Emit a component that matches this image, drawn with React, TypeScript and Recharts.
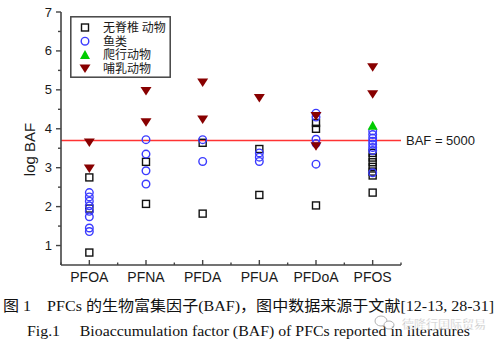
import React from 'react';
import { ScatterChart, Scatter, XAxis, YAxis, ReferenceLine, Legend } from 'recharts';

// log BAF values, one list per compound (PFOA .. PFOS)
const categories = ['PFOA', 'PFNA', 'PFDA', 'PFUA', 'PFDoA', 'PFOS'];

const invertebrates = [
  [2.75, 1.95, 0.82],
  [3.15, 2.07],
  [3.64, 1.82],
  [3.48, 2.3],
  [4.15, 4.0, 2.03],
  [3.38, 3.26, 3.14, 3.02, 2.9, 2.8, 2.36],
];

const fish = [
  [2.36, 2.25, 2.14, 2.02, 1.88, 1.74, 1.45, 1.36],
  [3.72, 3.35, 2.92, 2.58],
  [3.72, 3.16],
  [3.38, 3.27, 3.16],
  [4.4, 4.3, 3.73, 3.62, 3.09],
  [3.94, 3.85, 3.76, 3.68, 3.6, 3.52, 3.44, 2.87],
];

const reptiles = [[], [], [], [], [], [4.08]];

const mammals = [
  [3.65, 2.98],
  [4.97, 4.17],
  [5.19, 4.24],
  [4.79],
  [4.33, 3.55],
  [5.58, 4.89],
];

const bafLimit = 3.699; // log10(5000)
const xTicks = [0, 0.5, 1, 1.5, 2, 2.5, 3, 3.5, 4, 4.5, 5, 5.5, 6];
const yTicks = [1, 1.5, 2, 2.5, 3, 3.5, 4, 4.5, 5, 5.5, 6, 6.5, 7];

const toPoints = (groups: number[][]) =>
  groups.flatMap((vals, i) => vals.map((v) => ({ x: i + 0.5, y: v })));

const axisColor = '#444';
const textColor = '#1a1a1a';
const sansFont = "'Liberation Sans', Arial, sans-serif";
const axisLine = { stroke: axisColor, strokeWidth: 1.6 };

const Square = (props: any) => {
  const { cx, cy } = props;
  if (cx == null || cy == null) return null;
  return <rect x={cx - 3.5} y={cy - 3.5} width={7} height={7} fill="none" stroke="#111" strokeWidth={1.4} />;
};

const Ring = (props: any) => {
  const { cx, cy } = props;
  if (cx == null || cy == null) return null;
  return <circle cx={cx} cy={cy} r={3.8} fill="none" stroke="#3b3bff" strokeWidth={1.4} />;
};

const TriUp = (props: any) => {
  const { cx, cy } = props;
  if (cx == null || cy == null) return null;
  return <polygon points={`${cx - 5},${cy + 4} ${cx + 5},${cy + 4} ${cx},${cy - 5}`} fill="#00cc00" />;
};

const TriDown = (props: any) => {
  const { cx, cy } = props;
  if (cx == null || cy == null) return null;
  return <polygon points={`${cx - 5.5},${cy - 4} ${cx + 5.5},${cy - 4} ${cx},${cy + 4.5}`} fill="#880000" />;
};

const isMajorX = (v: number) => v % 1 !== 0;

const BottomTick = (props: any) => {
  const { x, y, payload } = props;
  const v = payload.value;
  const major = isMajorX(v);
  return (
    <g>
      <line x1={x} x2={x} y1={y} y2={y - (major ? 5 : 2.5)} stroke={axisColor} strokeWidth={1.4} />
      {major && (
        <text x={x} y={y + 17} textAnchor="middle" fontSize={14} fontFamily={sansFont} fill={textColor}>
          {categories[Math.floor(v)]}
        </text>
      )}
    </g>
  );
};

const TopTick = (props: any) => {
  const { x, y, payload } = props;
  const major = isMajorX(payload.value);
  return <line x1={x} x2={x} y1={y} y2={y + (major ? 4 : 2)} stroke={axisColor} strokeWidth={1.4} />;
};

const LeftTick = (props: any) => {
  const { x, y, payload } = props;
  const v = payload.value;
  const major = v % 1 === 0;
  return (
    <g>
      <line x1={x - (major ? 5 : 3)} x2={x} y1={y} y2={y} stroke={axisColor} strokeWidth={1.4} />
      {major && (
        <text x={x - 9} y={y + 4.5} textAnchor="end" fontSize={13} fontFamily={sansFont} fill={textColor}>
          {v}
        </text>
      )}
    </g>
  );
};

const RightTick = (props: any) => {
  const { x, y, payload } = props;
  const major = payload.value % 1 === 0;
  return <line x1={x} x2={x + (major ? 4 : 2.5)} y1={y} y2={y} stroke={axisColor} strokeWidth={1.4} />;
};

const YLabel = (props: any) => {
  const vb = props.viewBox || { x: 0, y: 12, width: 61, height: 253 };
  const cx = vb.x + 29;
  const cy = vb.y + vb.height / 2 + 11;
  return (
    <text
      x={cx}
      y={cy}
      transform={`rotate(-90, ${cx}, ${cy})`}
      textAnchor="middle"
      dominantBaseline="central"
      fontSize={15}
      fontFamily={sansFont}
      fill={textColor}
    >
      log BAF
    </text>
  );
};

const legendItems = [
  { name: '无脊椎 动物', Marker: Square },
  { name: '鱼类', Marker: Ring },
  { name: '爬行动物', Marker: TriUp },
  { name: '哺乳动物', Marker: TriDown },
];

const LegendBox = () => (
  <svg width={101} height={62} style={{ display: 'block' }}>
    <rect x={0.8} y={0.8} width={99.4} height={60.4} fill="#fff" stroke={axisColor} strokeWidth={1.5} />
    {legendItems.map((item, i) => {
      const cy = 11.5 + i * 13.7;
      const M = item.Marker;
      return (
        <g key={item.name}>
          <M cx={15} cy={cy} />
          <text x={33} y={cy + 4.3} fontSize={12} fontFamily="'Noto Sans CJK SC', sans-serif" fill={textColor}>
            {item.name}
          </text>
        </g>
      );
    })}
  </svg>
);

export default function App() {
  return (
    <div style={{ position: 'absolute', left: 0, top: 0, width: 500, height: 347, background: '#fff' }}>
      <ScatterChart width={500} height={290} margin={{ top: 12, right: 99, bottom: 0, left: 0 }}>
        <XAxis
          xAxisId="b"
          type="number"
          dataKey="x"
          domain={[0, 6]}
          ticks={xTicks}
          interval={0}
          height={25}
          tickSize={0}
          tickMargin={0}
          tick={<BottomTick />}
          axisLine={axisLine}
          allowDataOverflow
        />
        <XAxis
          xAxisId="t"
          orientation="top"
          type="number"
          domain={[0, 6]}
          ticks={xTicks}
          interval={0}
          height={0}
          tickSize={0}
          tickMargin={0}
          tick={<TopTick />}
          axisLine={axisLine}
          allowDataOverflow
        />
        <YAxis
          yAxisId="l"
          type="number"
          dataKey="y"
          domain={[0.5, 7]}
          ticks={yTicks}
          interval={0}
          width={61}
          tickSize={0}
          tickMargin={0}
          tick={<LeftTick />}
          axisLine={axisLine}
          label={<YLabel />}
          allowDataOverflow
        />
        <YAxis
          yAxisId="r"
          orientation="right"
          type="number"
          domain={[0.5, 7]}
          ticks={yTicks}
          interval={0}
          width={0}
          tickSize={0}
          tickMargin={0}
          tick={<RightTick />}
          axisLine={axisLine}
          allowDataOverflow
        />
        <ReferenceLine
          xAxisId="b"
          yAxisId="l"
          y={bafLimit}
          stroke="#ff3333"
          strokeWidth={1.5}
          label={{ value: 'BAF = 5000', position: 'right', offset: 5, fill: textColor, fontSize: 13, fontFamily: sansFont }}
        />
        <Scatter xAxisId="b" yAxisId="l" name="无脊椎 动物" data={toPoints(invertebrates)} shape={Square} isAnimationActive={false} />
        <Scatter xAxisId="b" yAxisId="l" name="鱼类" data={toPoints(fish)} shape={Ring} isAnimationActive={false} />
        <Scatter xAxisId="b" yAxisId="l" name="爬行动物" data={toPoints(reptiles)} shape={TriUp} isAnimationActive={false} />
        <Scatter xAxisId="b" yAxisId="l" name="哺乳动物" data={toPoints(mammals)} shape={TriDown} isAnimationActive={false} />
        <Legend
          layout="vertical"
          align="center"
          verticalAlign="middle"
          content={<LegendBox />}
          wrapperStyle={{ left: 70, top: 16, width: 101, height: 62 }}
        />
      </ScatterChart>
      <svg width={500} height={57} style={{ position: 'absolute', left: 0, top: 290 }}>
        <text
          x={3}
          y={21}
          textLength={491}
          lengthAdjust="spacingAndGlyphs"
          fontSize={15}
          fontFamily="'Liberation Serif', 'Noto Sans CJK SC', serif"
          fill="#111"
        >
          图 1　PFCs 的生物富集因子(BAF)，图中数据来源于文献[12-13, 28-31]
        </text>
        <text
          x={27}
          y={46}
          textLength={443}
          lengthAdjust="spacingAndGlyphs"
          fontSize={15}
          fontFamily="'Liberation Serif', serif"
          fill="#111"
        >
          Fig.1　 Bioaccumulation factor (BAF) of PFCs reported in literatures
        </text>
        <g opacity={0.75}>
          <ellipse cx={381} cy={31} rx={6} ry={5} fill="none" stroke="#999" strokeWidth={1} />
          <ellipse cx={389} cy={35} rx={5} ry={4} fill="#fff" stroke="#999" strokeWidth={1} />
          <text x={402} y={39} fontSize={12} fontFamily="'Noto Sans CJK SC', sans-serif" fill="#8a8a8a" stroke="#fff" strokeWidth={0.4}>
            德隆行国际贸易
          </text>
        </g>
      </svg>
    </div>
  );
}
